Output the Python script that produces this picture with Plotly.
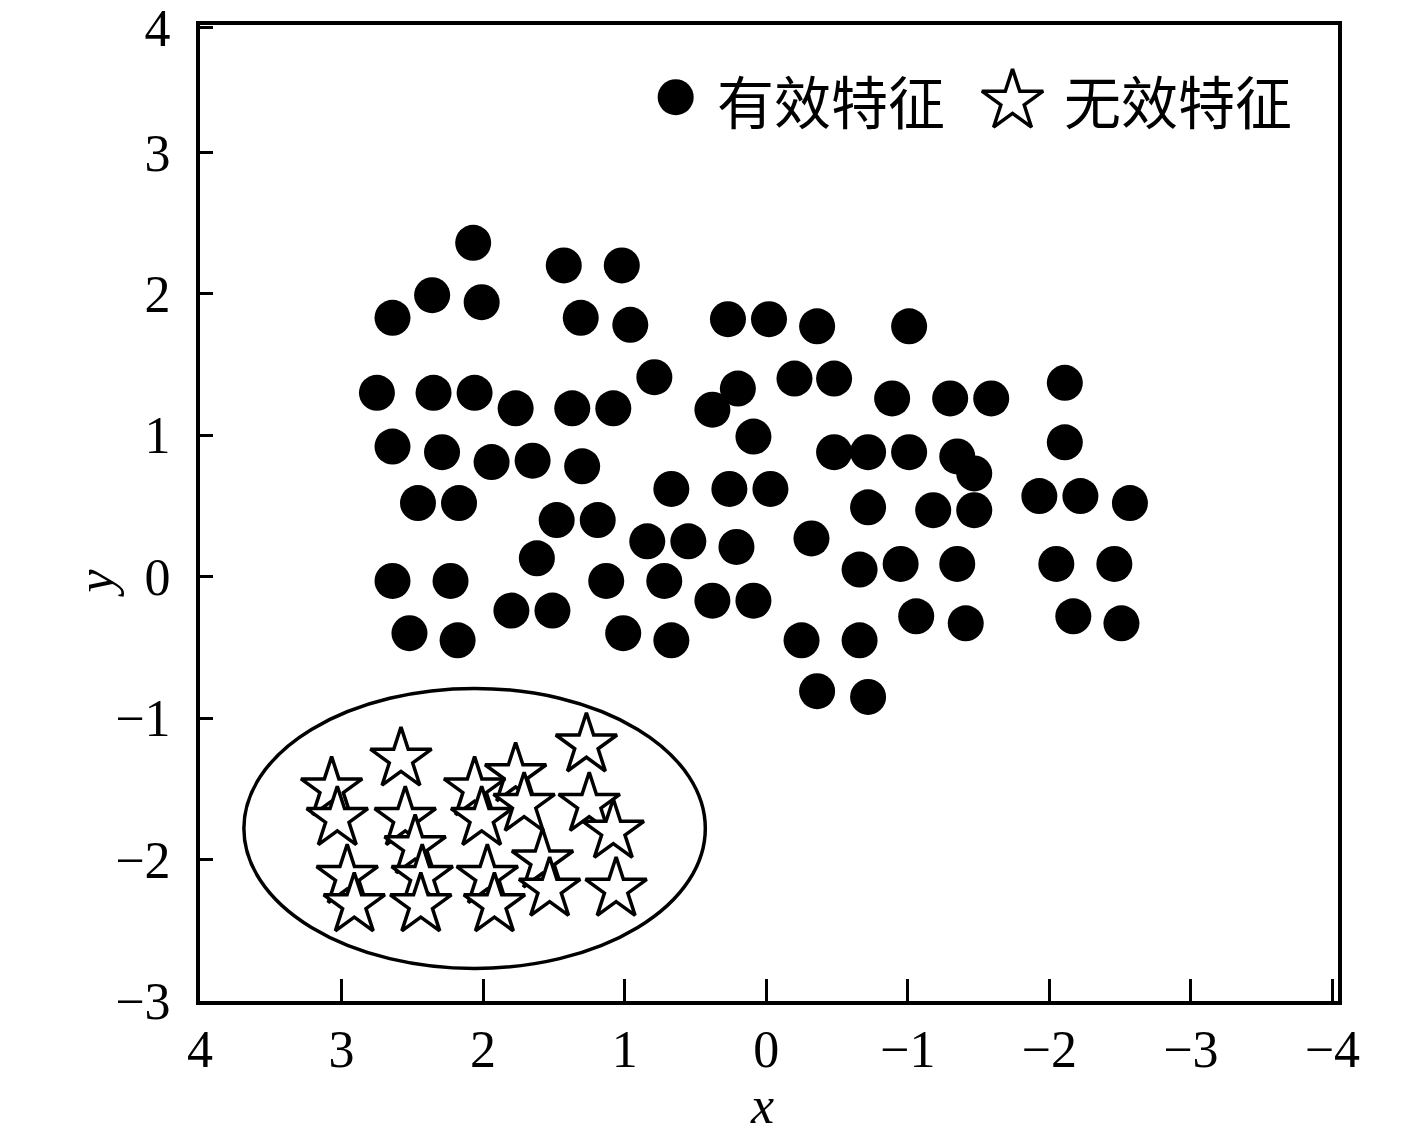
import plotly.graph_objects as go

# effective features (filled dots)
valid_x = [2.07, 2.36, 2.01, 2.64, 1.43, 1.02, 1.31, 0.96, 2.75, 2.35,
           2.06, 1.77, 1.37, 1.08, 0.79, 2.64, 2.29, 1.94, 1.65, 1.30,
           2.46, 2.17, 1.48, 1.19, 1.62, 2.64, 2.23, 1.13, 1.80, 1.51,
           2.52, 2.18, 1.01, 0.84, 0.55, 0.27, -0.02, -0.36, -1.01, 0.20,
           0.38, -0.20, -0.48, -0.89, 0.09, -0.48, -0.72, -1.01, 0.67, 0.26,
           -0.03, -0.72, 0.21, -0.32, 0.72, 0.38, 0.09, -0.66, -0.95, 0.67,
           -0.25, -0.66, -0.36, -0.72, -1.06, -1.30, -1.59, -2.11, -1.35, -1.47,
           -1.47, -2.11, -1.93, -2.22, -2.57, -1.18, -1.35, -2.05, -2.46, -1.41,
           -2.17, -2.51]
valid_y = [2.36, 1.99, 1.94, 1.83, 2.20, 2.20, 1.83, 1.78, 1.30, 1.30,
           1.30, 1.19, 1.19, 1.19, 1.41, 0.92, 0.88, 0.81, 0.82, 0.78,
           0.52, 0.52, 0.40, 0.40, 0.13, -0.03, -0.03, -0.03, -0.24, -0.24,
           -0.40, -0.45, -0.40, 0.25, 0.25, 1.82, 1.82, 1.77, 1.77, 1.33,
           1.18, 1.40, 1.40, 1.26, 0.99, 0.88, 0.88, 0.88, 0.62, 0.62,
           0.62, 0.49, 0.21, 0.27, -0.03, -0.17, -0.17, 0.05, 0.09, -0.45,
           -0.45, -0.45, -0.81, -0.85, -0.28, 1.26, 1.26, 1.37, 0.85, 0.73,
           0.47, 0.95, 0.57, 0.57, 0.52, 0.47, 0.09, 0.09, 0.09, -0.33,
           -0.28, -0.33]

# ineffective features (stars)
invalid_x = [1.27, 2.58, 3.07, 1.77, 2.06, 3.03, 2.55, 2.01, 1.71, 1.25,
             1.08, 2.48, 1.58, 2.96, 2.43, 1.97, 1.06, 1.53, 2.91, 2.44,
             1.92]
invalid_y = [-1.19, -1.29, -1.50, -1.40, -1.50, -1.71, -1.71, -1.71, -1.61, -1.61,
             -1.80, -1.91, -2.01, -2.12, -2.12, -2.12, -2.21, -2.21, -2.32, -2.32,
             -2.32]

legend_names = ['有效特征', '无效特征']

x_ticks = [4, 3, 2, 1, 0, -1, -2, -3, -4]
y_ticks = [-3, -2, -1, 0, 1, 2, 3, 3.88]
y_tick_text = ['−3', '−2', '−1', '0', '1', '2', '3', '4']

# ellipse around the ineffective cluster (data units)
ell_x0, ell_x1 = 3.69, 0.43
ell_y0, ell_y1 = -0.79, -2.77

serif = 'Liberation Serif, Times New Roman, serif'
cjk = 'Noto Sans CJK SC'

fig = go.Figure()

fig.add_trace(go.Scatter(
    x=valid_x, y=valid_y, mode='markers', name=legend_names[0],
    marker=dict(symbol='circle', size=36, color='black', line=dict(width=0)),
    showlegend=False
))

fig.add_trace(go.Scatter(
    x=invalid_x, y=invalid_y, mode='markers', name=legend_names[1],
    marker=dict(symbol='star', size=46, color='white',
                line=dict(color='black', width=3.5)),
    showlegend=False
))

# legend glyphs on an overlay axis (0..1 in plot area)
fig.add_trace(go.Scatter(
    x=[0.418], y=[0.926], xaxis='x2', yaxis='y2', mode='markers',
    marker=dict(symbol='circle', size=36, color='black'),
    showlegend=False, hoverinfo='skip'
))
fig.add_trace(go.Scatter(
    x=[0.714], y=[0.922], xaxis='x2', yaxis='y2', mode='markers',
    marker=dict(symbol='star', size=46, color='white',
                line=dict(color='black', width=3.5)),
    showlegend=False, hoverinfo='skip'
))

fig.add_shape(type='circle', xref='x', yref='y',
              x0=ell_x0, x1=ell_x1, y0=ell_y0, y1=ell_y1,
              line=dict(color='black', width=3.5), layer='below')

fig.add_annotation(x=0.4525, y=0.924, xref='paper', yref='paper',
                   text=legend_names[0], showarrow=False, xanchor='left',
                   yanchor='middle', font=dict(family=cjk, size=57, color='black'))
fig.add_annotation(x=0.7575, y=0.924, xref='paper', yref='paper',
                   text=legend_names[1], showarrow=False, xanchor='left',
                   yanchor='middle', font=dict(family=cjk, size=57, color='black'))

# axis titles
fig.add_annotation(x=0.494, y=-0.107, xref='paper', yref='paper',
                   text='<i>x</i>', showarrow=False, xanchor='center',
                   yanchor='middle', font=dict(family=serif, size=52, color='black'))
fig.add_annotation(x=-0.092, y=0.428, xref='paper', yref='paper',
                   text='<i>y</i>', showarrow=False, textangle=-90,
                   xanchor='center', yanchor='middle',
                   font=dict(family=serif, size=52, color='black'))

# page body adds ~8px margin, so the figure is 8px smaller and shifted
fig.update_layout(
    width=1409, height=1122,
    paper_bgcolor='white', plot_bgcolor='white',
    margin=dict(l=192, r=79, t=17, b=129),
    font=dict(family=serif, size=52, color='black'),
    showlegend=False,
    xaxis=dict(
        range=[4, -4.04], tickvals=x_ticks,
        ticks='inside', ticklen=22, tickwidth=3, tickcolor='black',
        showline=True, linewidth=4, linecolor='black', mirror=True,
        showgrid=False, zeroline=False, ticklabelstandoff=0,
        automargin=False,
        tickfont=dict(family=serif, size=52, color='black')
    ),
    yaxis=dict(
        range=[-3, 3.9], tickvals=y_ticks, ticktext=y_tick_text,
        ticks='inside', ticklen=13, tickwidth=3, tickcolor='black',
        showline=True, linewidth=4, linecolor='black', mirror=True,
        showgrid=False, zeroline=False, ticklabelstandoff=15,
        ticklabeloverflow='allow', automargin=False,
        tickfont=dict(family=serif, size=52, color='black')
    ),
    xaxis2=dict(range=[0, 1], overlaying='x', visible=False),
    yaxis2=dict(range=[0, 1], overlaying='y', visible=False),
)

fig.write_html("out.html")
